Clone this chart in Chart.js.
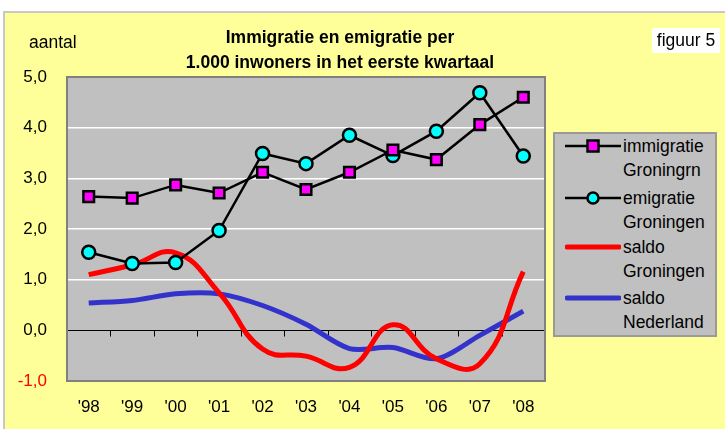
<!DOCTYPE html>
<html>
<head>
<meta charset="utf-8">
<script src="https://cdn.jsdelivr.net/npm/chart.js@4.4.0/dist/chart.umd.min.js"></script>
<style>
  html, body { margin: 0; padding: 0; background: #fff; }
  body { width: 725px; height: 429px; position: relative; overflow: hidden;
         font-family: "Liberation Sans", Arial, sans-serif; color: #000; }
  #frame { position: absolute; left: 3px; top: 11px; width: 722px; height: 418px;
           background: #FFFF99; border-left: 2px solid #c8c8c8; border-top: 2px solid #c8c8c8; box-sizing: border-box; }
  #chartBox { position: absolute; left: 0; top: 0; width: 725px; height: 429px; }
  .txt { position: absolute; font-size: 17.5px; white-space: nowrap; }
  #title { left: 140px; width: 400px; top: 25px; text-align: center; font-weight: bold; line-height: 25px; }
  #unit { left: 29px; top: 31px; line-height: 22px; }
  #fig { left: 652px; top: 28px; width: 68px; height: 25px; background: #fff; line-height: 25px; text-align: center; }
  #legend { position: absolute; left: 553px; top: 132px; width: 164px; height: 205px;
            background: #C0C0C0; border: 2px solid #9a9a9a; box-sizing: border-box; }
  .item { position: absolute; left: 10px; font-size: 17.5px; line-height: 24px; }
  .item svg { position: absolute; left: 0; top: 5px; }
  .item span { position: absolute; left: 58px; top: 0; white-space: nowrap; }
</style>
</head>
<body>
<div id="frame"></div>
<div id="chartBox"><canvas id="chart" width="725" height="429"></canvas></div>
<div class="txt" id="unit">aantal</div>
<div class="txt" id="title">Immigratie en emigratie per<br>1.000 inwoners in het eerste kwartaal</div>
<div class="txt" id="fig">figuur 5</div>
<div id="legend"></div>

<script>
// data
const years = ["'98", "'99", "'00", "'01", "'02", "'03", "'04", "'05", "'06", "'07", "'08"];
const immigratie = [2.64, 2.61, 2.87, 2.71, 3.12, 2.78, 3.12, 3.56, 3.37, 4.06, 4.60];
const emigratie = [1.54, 1.32, 1.34, 1.97, 3.49, 3.29, 3.85, 3.45, 3.93, 4.69, 3.44];
const saldoGroningen = [1.10, 1.29, 1.53, 0.74, -0.37, -0.51, -0.73, 0.11, -0.56, -0.66, 1.16];
const saldoNederland = [0.54, 0.59, 0.72, 0.72, 0.49, 0.12, -0.36, -0.34, -0.56, -0.10, 0.38];
const legendLabels = [
    ['immigratie', 'Groningrn'],
    ['emigratie', 'Groningen'],
    ['saldo', 'Groningen'],
    ['saldo', 'Nederland']
];

const FONT = '"Liberation Sans", Arial, sans-serif';

// plot area background, border, zero line with ticks
const plotArea = {
    id: 'plotArea',
    beforeDraw(chart) {
        const { ctx, chartArea: a } = chart;
        ctx.save();
        ctx.fillStyle = '#C0C0C0';
        ctx.fillRect(a.left, a.top, a.width, a.height);
        ctx.restore();
    },
    beforeDatasetsDraw(chart) {
        const { ctx, chartArea: a, scales } = chart;
        const y0 = Math.round(scales.y.getPixelForValue(0)) + 0.5;
        ctx.save();
        ctx.strokeStyle = '#000';
        ctx.lineWidth = 1;
        ctx.beginPath();
        ctx.moveTo(a.left, y0);
        ctx.lineTo(a.right, y0);
        const n = years.length;
        const step = scales.x.getPixelForValue(1) - scales.x.getPixelForValue(0);
        for (let i = 0; i <= n; i++) {
            const x = Math.round(scales.x.getPixelForValue(0) - step / 2 + i * step) + 0.5;
            ctx.moveTo(x, y0);
            ctx.lineTo(x, y0 + 6);
        }
        ctx.stroke();
        // plot border
        ctx.strokeStyle = '#808080';
        ctx.lineWidth = 2;
        ctx.strokeRect(a.left, a.top, a.width, a.height);
        ctx.restore();
    }
};

const chart = new Chart(document.getElementById('chart'), {
    type: 'line',
    data: {
        labels: years,
        datasets: [
            {
                label: 'immigratie Groningrn',
                data: immigratie,
                borderColor: '#000',
                borderWidth: 2.5,
                pointStyle: 'rect',
                pointRadius: 7.5,
                pointBackgroundColor: '#FF00FF',
                pointBorderColor: '#000',
                pointBorderWidth: 2.5,
                tension: 0
            },
            {
                label: 'emigratie Groningen',
                data: emigratie,
                borderColor: '#000',
                borderWidth: 2.5,
                pointStyle: 'circle',
                pointRadius: 6.5,
                pointBackgroundColor: '#00FFFF',
                pointBorderColor: '#000',
                pointBorderWidth: 2.5,
                tension: 0
            },
            {
                label: 'saldo Groningen',
                data: saldoGroningen,
                borderColor: '#FF0000',
                borderWidth: 5,
                pointRadius: 0,
                tension: 0.45
            },
            {
                label: 'saldo Nederland',
                data: saldoNederland,
                borderColor: '#3333CC',
                borderWidth: 5,
                pointRadius: 0,
                tension: 0.3
            }
        ]
    },
    options: {
        responsive: false,
        animation: false,
        layout: { padding: { left: 0, top: 77, right: 180, bottom: 0 } },
        plugins: { legend: { display: false }, tooltip: { enabled: false } },
        scales: {
            x: {
                offset: true,
                grid: { display: false, drawTicks: false },
                border: { display: false },
                ticks: { color: '#000', font: { family: FONT, size: 17 }, padding: 16, maxRotation: 0, autoSkip: false },
                afterFit(scale) { scale.height = 48; }
            },
            y: {
                min: -1,
                max: 5,
                grid: {
                    drawTicks: false,
                    color: ctx => (ctx.tick && ctx.tick.value > 0 && ctx.tick.value < 5) ? '#FFFFFF' : 'rgba(0,0,0,0)',
                    lineWidth: 1.5
                },
                border: { display: false },
                ticks: {
                    stepSize: 1,
                    padding: 20,
                    font: { family: FONT, size: 17 },
                    color: ctx => ctx.tick.value < 0 ? '#FF0000' : '#000',
                    callback: v => v.toFixed(1).replace('.', ',')
                },
                afterFit(scale) { scale.width = 67; }
            }
        }
    },
    plugins: [plotArea]
});

// legend
const legend = document.getElementById('legend');
const sampleSvg = [
    '<svg width="56" height="14"><line x1="0" y1="7" x2="56" y2="7" stroke="#000" stroke-width="2.5"/><rect x="22.5" y="1.5" width="11" height="11" fill="#FF00FF" stroke="#000" stroke-width="2.5"/></svg>',
    '<svg width="56" height="14"><line x1="0" y1="7" x2="56" y2="7" stroke="#000" stroke-width="2.5"/><circle cx="28" cy="7" r="5.5" fill="#00FFFF" stroke="#000" stroke-width="2.5"/></svg>',
    '<svg width="56" height="14"><line x1="2" y1="7" x2="54" y2="7" stroke="#FF0000" stroke-width="5" stroke-linecap="round"/></svg>',
    '<svg width="56" height="14"><line x1="2" y1="7" x2="54" y2="7" stroke="#3333CC" stroke-width="5" stroke-linecap="round"/></svg>'
];
const itemTops = [0, 52, 101, 152];
legendLabels.forEach((lines, i) => {
    const d = document.createElement('div');
    d.className = 'item';
    d.style.top = itemTops[i] + 'px';
    d.innerHTML = sampleSvg[i] + '<span>' + lines.join('<br>') + '</span>';
    legend.appendChild(d);
});
</script>
</body>
</html>
